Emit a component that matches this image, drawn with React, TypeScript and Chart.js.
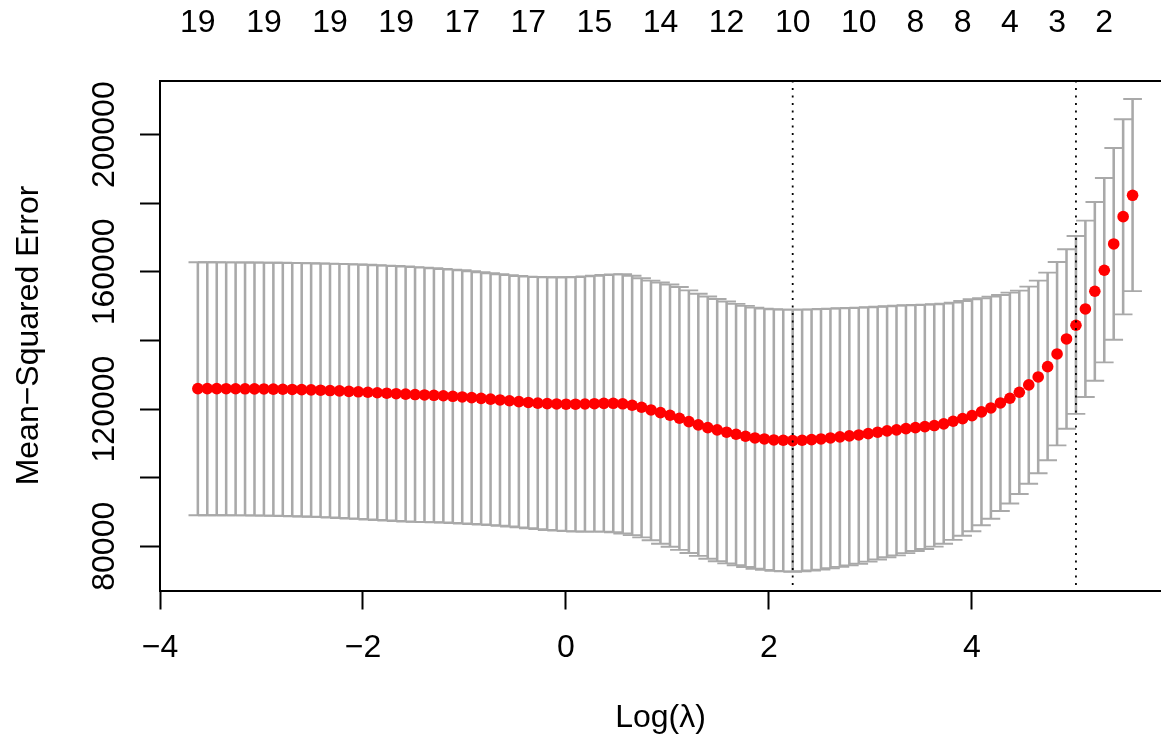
import React, { useEffect, useRef } from 'react';
import { Chart, registerables } from 'chart.js';

Chart.register(...registerables);

// log(lambda) grid of the cross-validation path (left to right)
const logLambda = [
  -3.627, -3.534, -3.441, -3.348, -3.255, -3.162, -3.069, -2.976, -2.883, -2.790,
  -2.697, -2.604, -2.511, -2.418, -2.325, -2.232, -2.139, -2.046, -1.952, -1.859,
  -1.766, -1.673, -1.580, -1.487, -1.394, -1.301, -1.208, -1.115, -1.022, -0.929,
  -0.836, -0.743, -0.650, -0.557, -0.464, -0.371, -0.278, -0.185, -0.092, 0.001,
  0.094, 0.187, 0.280, 0.373, 0.466, 0.559, 0.652, 0.745, 0.838, 0.931,
  1.025, 1.118, 1.211, 1.304, 1.397, 1.490, 1.583, 1.676, 1.769, 1.862,
  1.955, 2.048, 2.141, 2.234, 2.327, 2.420, 2.513, 2.606, 2.699, 2.792,
  2.885, 2.978, 3.071, 3.164, 3.257, 3.350, 3.443, 3.536, 3.629, 3.722,
  3.815, 3.908, 4.001, 4.094, 4.187, 4.281, 4.374, 4.467, 4.560, 4.653,
  4.746, 4.839, 4.932, 5.025, 5.118, 5.211, 5.304, 5.397, 5.490, 5.583,
];

// mean cross-validated error
const cvm = [
  125950, 125950, 125950, 125940, 125930, 125910, 125890, 125860, 125820, 125780,
  125720, 125660, 125590, 125500, 125400, 125290, 125170, 125040, 124900, 124760,
  124620, 124480, 124350, 124230, 124120, 124020, 123880, 123720, 123540, 123340,
  123130, 122900, 122660, 122420, 122170, 121930, 121730, 121590, 121490, 121420,
  121420, 121480, 121570, 121650, 121680, 121530, 121110, 120530, 119750, 118970,
  118200, 117320, 116350, 115380, 114590, 113920, 113250, 112660, 112080, 111580,
  111290, 111000, 110910, 110800, 110910, 111090, 111290, 111580, 111880, 112170,
  112460, 112840, 113250, 113630, 113920, 114300, 114590, 114880, 115200, 115670,
  116450, 117220, 118090, 119170, 120330, 121790, 123160, 124910, 127040, 129370,
  132370, 136070, 140450, 144440, 149190, 154350, 160470, 168140, 176100, 182330,
];

// upper bound (cvm + sd)
const cvup = [
  162800, 162800, 162790, 162780, 162770, 162750, 162730, 162700, 162670, 162640,
  162600, 162560, 162510, 162460, 162400, 162330, 162250, 162160, 162060, 161950,
  161830, 161700, 161560, 161400, 161230, 161050, 160850, 160650, 160460, 160190,
  159910, 159620, 159330, 159050, 158810, 158620, 158500, 158440, 158430, 158450,
  158520, 158690, 158890, 159090, 159270, 159300, 158850, 158160, 157440, 156920,
  156330, 155580, 154600, 153620, 152800, 152100, 151350, 150680, 150090, 149590,
  149280, 149100, 148990, 148990, 149000, 149080, 149180, 149280, 149380, 149480,
  149570, 149680, 149850, 149980, 150150, 150250, 150350, 150450, 150550, 150750,
  151030, 151520, 152020, 152310, 152780, 153270, 153940, 154530, 155700, 157440,
  159770, 162890, 166590, 170470, 174930, 180380, 187380, 196120, 204490, 210410,
];

// lower bound (cvm - sd)
const cvlo = [
  89050, 89040, 89040, 89030, 89010, 88990, 88960, 88930, 88880, 88830,
  88760, 88690, 88610, 88500, 88380, 88250, 88110, 87970, 87800, 87650,
  87500, 87350, 87230, 87120, 87040, 87000, 86920, 86790, 86620, 86490,
  86330, 86160, 85970, 85750, 85500, 85240, 84990, 84760, 84570, 84400,
  84300, 84280, 84280, 84260, 84080, 83720, 83250, 82600, 81750, 80750,
  79850, 78950, 78050, 77200, 76350, 75630, 75020, 74470, 73940, 73450,
  73100, 72820, 72680, 72570, 72720, 72950, 73200, 73600, 73990, 74420,
  74910, 75530, 76140, 76800, 77340, 78010, 78600, 79220, 79880, 80740,
  81860, 83070, 84360, 86130, 88020, 90300, 92470, 95230, 98240, 101300,
  105070, 109400, 114260, 118600, 123500, 128260, 133600, 140200, 147620, 154390,
];

const lambdaMinLog = 2.234;
const lambda1seLog = 5.025;

// number of non-zero coefficients shown along the top
const topTickLogLambda = [-3.627, -2.976, -2.325, -1.673, -1.022, -0.371, 0.280, 0.931, 1.583, 2.234, 2.885, 3.443, 3.908, 4.374, 4.839, 5.304];
const topTickLabels = ['19', '19', '19', '19', '17', '17', '15', '14', '12', '10', '10', '8', '8', '4', '3', '2'];

// y tick marks, and the subset that carries a label
const yTickValues = [80000, 100000, 120000, 140000, 160000, 180000, 200000];
const yTickLabelValues = [80000, 120000, 160000, 200000];
const xTickValues = [-4, -2, 0, 2, 4];

const X_MIN = -4;
const X_MAX = 5.863;
const Y_MIN = 67100;
const Y_MAX = 215800;

const FONT_FAMILY = '"Liberation Sans", Arial, Helvetica, sans-serif';
const FONT_SIZE = 32;
const GREY = '#A9A9A9';
const CAP_HALF_PX = 9.35;
const LINE_W = 1.9;

const fmtX = (v: number) => {
  const r = Math.round(v);
  return r < 0 ? '\u2212' + Math.abs(r) : String(r);
};

const yLabelPlugin = {
  id: 'rotatedYLabels',
  afterDraw(chart: any) {
    const ctx = chart.ctx;
    const ys = chart.scales.y;
    ctx.save();
    ctx.font = `${FONT_SIZE}px ${FONT_FAMILY}`;
    ctx.fillStyle = '#000';
    ctx.textAlign = 'center';
    ctx.textBaseline = 'alphabetic';
    for (const v of yTickLabelValues) {
      const y = ys.getPixelForValue(v);
      ctx.save();
      ctx.translate(114, y);
      ctx.rotate(-Math.PI / 2);
      ctx.fillText(String(v), 0, 0);
      ctx.restore();
    }
    ctx.restore();
  },
};

export default function App() {
  const ref = useRef<HTMLCanvasElement>(null);

  useEffect(() => {
    document.body.style.margin = '0';
    const font = { family: FONT_FAMILY, size: FONT_SIZE, lineHeight: 1 };

    const config: any = {
      type: 'scatter',
      data: {
        datasets: [
          {
            type: 'line',
            label: 'lambda.min',
            data: [{ x: lambdaMinLog, y: Y_MAX }, { x: lambdaMinLog, y: Y_MIN }],
            borderColor: '#000',
            borderWidth: 1.8,
            borderDash: [2, 5.5],
            pointRadius: 0,
            fill: false,
            order: 0,
          },
          {
            type: 'line',
            label: 'lambda.1se',
            data: [{ x: lambda1seLog, y: Y_MAX }, { x: lambda1seLog, y: Y_MIN }],
            borderColor: '#000',
            borderWidth: 1.8,
            borderDash: [2, 5.5],
            pointRadius: 0,
            fill: false,
            order: 0,
          },
          {
            type: 'scatter',
            label: 'cvm',
            data: logLambda.map((x, i) => ({ x, y: cvm[i] })),
            pointRadius: 5.8,
            pointBackgroundColor: '#FF0000',
            pointBorderColor: '#FF0000',
            pointBorderWidth: 0,
            showLine: false,
            order: 1,
          },
          {
            type: 'scatter',
            label: 'cvup',
            data: logLambda.map((x, i) => ({ x, y: cvup[i] })),
            pointStyle: 'line',
            pointRadius: CAP_HALF_PX,
            pointBorderColor: GREY,
            pointBorderWidth: LINE_W,
            showLine: false,
            order: 2,
          },
          {
            type: 'scatter',
            label: 'cvlo',
            data: logLambda.map((x, i) => ({ x, y: cvlo[i] })),
            pointStyle: 'line',
            pointRadius: CAP_HALF_PX,
            pointBorderColor: GREY,
            pointBorderWidth: LINE_W,
            showLine: false,
            order: 2,
          },
          {
            type: 'bar',
            label: 'bars',
            data: logLambda.map((x, i) => ({ x, y: [cvlo[i], cvup[i]] })),
            backgroundColor: GREY,
            borderWidth: 0,
            barThickness: LINE_W,
            order: 3,
          },
        ],
      },
      options: {
        animation: false,
        responsive: false,
        maintainAspectRatio: false,
        devicePixelRatio: 1,
        events: [],
        layout: { padding: 0, autoPadding: false },
        plugins: { legend: { display: false }, tooltip: { enabled: false }, title: { display: false } },
        scales: {
          x: {
            type: 'linear',
            position: 'bottom',
            min: X_MIN,
            max: X_MAX,
            offset: false,
            afterFit: (s: any) => { s.height = 145.5; },
            afterBuildTicks: (s: any) => { s.ticks = xTickValues.map((v) => ({ value: v })); },
            border: { display: true, color: '#000', width: 2 },
            grid: { display: true, drawOnChartArea: false, drawTicks: true, tickLength: 19, tickWidth: 2, tickColor: '#000', offset: false },
            ticks: {
              autoSkip: false, maxRotation: 0, minRotation: 0,
              padding: 23, color: '#000', font, callback: (v: number) => fmtX(v),
            },
            title: { display: true, text: 'Log(\u03BB)', color: '#000', font, padding: { top: 0, bottom: 2 } },
          },
          x2: {
            type: 'linear',
            position: 'top',
            min: X_MIN,
            max: X_MAX,
            offset: false,
            afterFit: (s: any) => { s.height = 80.5; },
            afterBuildTicks: (s: any) => { s.ticks = topTickLogLambda.map((v) => ({ value: v })); },
            border: { display: true, color: '#000', width: 2 },
            grid: { display: true, drawOnChartArea: false, drawTicks: false, offset: false },
            ticks: {
              autoSkip: false, maxRotation: 0, minRotation: 0, padding: 41.5, color: '#000', font,
              callback: (_v: number, i: number) => topTickLabels[i],
            },
          },
          y: {
            type: 'linear',
            position: 'left',
            min: Y_MIN,
            max: Y_MAX,
            afterFit: (s: any) => { s.width = 160; },
            afterBuildTicks: (s: any) => { s.ticks = yTickValues.map((v) => ({ value: v })); },
            border: { display: true, color: '#000', width: 2 },
            grid: { display: true, drawOnChartArea: false, drawTicks: true, tickLength: 20, tickWidth: 2, tickColor: '#000' },
            ticks: { display: false },
            title: { display: true, text: 'Mean\u2212Squared Error', color: '#000', font, padding: { top: 13, bottom: 0 } },
          },
        },
      },
      plugins: [yLabelPlugin],
    };

    const chart = new Chart(ref.current as HTMLCanvasElement, config);
    return () => chart.destroy();
  }, []);

  return (
    <div style={{ width: 1161, height: 736, overflow: 'hidden', background: '#fff' }}>
      <canvas ref={ref} width={1161} height={736} style={{ display: 'block', width: 1161, height: 736 }} />
    </div>
  );
}
